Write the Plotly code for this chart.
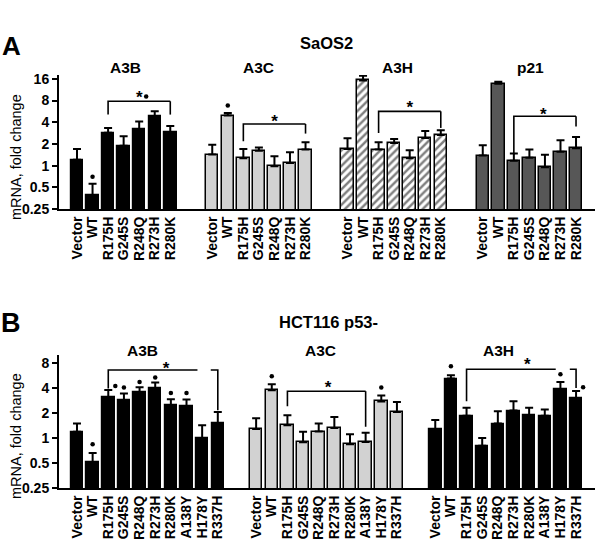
import math
import plotly.graph_objects as go

FONT = "Arial, 'Liberation Sans', Helvetica, sans-serif"

# ---------------- data ----------------
mutants_A = ["Vector", "WT", "R175H", "G245S", "R248Q", "R273H", "R280K"]
mutants_B = ["Vector", "WT", "R175H", "G245S", "R248Q", "R273H", "R280K",
             "A138Y", "H178Y", "R337H"]
genes_A = ["A3B", "A3C", "A3H", "p21"]
genes_B = ["A3B", "A3C", "A3H"]

# SaOS2: mean fold change and upper end of the error bar
saos2_A3B = [1.21, 0.39, 2.85, 1.88, 3.23, 4.83, 2.90]
saos2_A3B_hi = [1.70, 0.56, 3.33, 2.55, 4.08, 5.66, 3.55]
saos2_A3C = [1.42, 4.94, 1.26, 1.61, 0.98, 1.09, 1.67]
saos2_A3C_hi = [1.94, 5.38, 1.70, 1.78, 1.35, 1.53, 2.10]
saos2_A3H = [1.70, 15.2, 1.67, 2.06, 1.26, 2.42, 2.66]
saos2_A3H_hi = [2.39, 17.7, 2.10, 2.34, 1.63, 3.03, 3.09]
saos2_p21 = [1.38, 13.7, 1.17, 1.29, 0.95, 1.56, 1.74]
saos2_p21_hi = [1.91, 14.6, 1.47, 1.67, 1.41, 2.24, 2.50]

# HCT116 p53-
hct_A3B = [1.19, 0.51, 3.09, 2.89, 3.61, 4.03, 2.50, 2.43, 1.00, 1.52]
hct_A3B_hi = [1.50, 0.66, 3.81, 3.45, 4.11, 4.69, 2.95, 2.92, 1.43, 2.07]
hct_A3C = [1.29, 3.78, 1.43, 0.89, 1.20, 1.32, 0.84, 0.90, 2.77, 2.06]
hct_A3C_hi = [1.74, 4.47, 1.88, 1.19, 1.50, 1.80, 1.11, 1.16, 3.27, 2.73]
hct_A3H = [1.28, 5.23, 1.86, 0.81, 1.50, 2.15, 1.89, 1.86, 3.86, 3.03]
hct_A3H_hi = [1.65, 5.74, 2.32, 1.00, 2.11, 2.79, 2.32, 2.21, 4.76, 3.71]

y_ticks = [0.25, 0.5, 1, 2, 4, 8, 16]
y_ticktext = ["0.25", "0.5", "1", "2", "4", "8", "16"]

# ---------------- layout helpers ----------------
W, H = 600, 540
ML, MR = 59, 5
PW = W - ML - MR


def px_x(p):
    return (p - ML) / PW


def px_y(p):
    return (H - p) / H


GAP_A = 8.7     # slot offset between gene groups, panel A
GAP_B = 11.45   # panel B

BLACK = "#000000"
LGRAY = "#d2d2d2"
DGRAY = "#575757"

styles = {
    "black": dict(color=BLACK, line=dict(color=BLACK, width=1.2)),
    "light": dict(color=LGRAY, line=dict(color=BLACK, width=1.5)),
    "dark": dict(color=DGRAY, line=dict(color=BLACK, width=1.5)),
    "hatch": dict(color="white",
                  pattern=dict(shape="/", fgcolor=BLACK, bgcolor="white",
                               size=5.5, solidity=0.45),
                  line=dict(color=BLACK, width=1.5)),
}

fig = go.Figure()


def add_group(vals, his, g, gap, labels, style, xa, ya):
    xs = [g * gap + i for i in range(len(labels))]
    plus = [h - v for v, h in zip(vals, his)]
    fig.add_trace(go.Bar(
        x=xs, y=vals, width=0.8, xaxis=xa, yaxis=ya,
        marker=styles[style],
        error_y=dict(type="data", symmetric=False, array=plus,
                     arrayminus=[0] * len(vals), color=BLACK,
                     thickness=2, width=4),
        showlegend=False, hoverinfo="skip"))
    return xs


panelA = [(saos2_A3B, saos2_A3B_hi, "black"), (saos2_A3C, saos2_A3C_hi, "light"),
          (saos2_A3H, saos2_A3H_hi, "hatch"), (saos2_p21, saos2_p21_hi, "dark")]
panelB = [(hct_A3B, hct_A3B_hi, "black"), (hct_A3C, hct_A3C_hi, "light"),
          (hct_A3H, hct_A3H_hi, "black")]

tickA, textA = [], []
for g, (v, h, s) in enumerate(panelA):
    tickA += add_group(v, h, g, GAP_A, mutants_A, s, "x", "y")
    textA += mutants_A
tickB, textB = [], []
for g, (v, h, s) in enumerate(panelB):
    tickB += add_group(v, h, g, GAP_B, mutants_B, s, "x2", "y2")
    textB += mutants_B

# ---------------- significance brackets ----------------
# (group, [(x0, x1), ...], level, left-tick bottom, right-tick bottom)
brackets_A = [
    (0, [(2, 6)], 7.8, 5.1, 5.1),
    (1, [(2, 6)], 3.78, 2.17, 2.78),
    (2, [(2, 6)], 5.66, 2.84, 3.33),
    (3, [(2, 6)], 4.83, 1.42, 3.5),
]
brackets_B = [
    (0, [(2, 7.7), (8.55, 9)], 6.64, 3.96, 2.17),
    (1, [(2, 7)], 3.68, 2.43, 1.37),
    (2, [(2, 7.7), (8.6, 9)], 6.77, 2.79, 4.03),
]
# asterisks: (group, slot, level)
stars_A = [(0, 4.0, 9.7), (1, 4.0, 4.6), (2, 4.0, 7.2), (3, 3.9, 5.8)]
stars_B = [(0, 5.7, 7.7), (1, 4.6, 4.55), (2, 5.88, 8.5)]
# dots: (group, slot, level)
dots_A = [(0, 1, 0.70), (0, 4.45, 9.1), (1, 1, 6.8), (2, 1, 21.4), (3, 1, 19.7)]
dots_B = [(0, 1, 0.84), (0, 2.45, 4.26), (0, 3, 4.08), (0, 4, 4.76), (0, 5, 5.38),
          (0, 6, 3.51), (0, 7, 3.51), (1, 1, 5.58), (1, 8, 4.08),
          (2, 1, 7.36), (2, 8, 5.9), (2, 9.45, 4.1)]


def add_marks(brackets, stars, dots, gap, xa, ya, star_shift):
    bx, by = [], []
    for g, segs, lvl, lb, rb in brackets:
        off = g * gap
        (a0, a1) = segs[0]
        bx += [off + a0, off + a0, off + a1, None]
        by += [lb, lvl, lvl, None]
        (c0, c1) = segs[-1]
        if len(segs) > 1:
            bx += [off + c0, off + c1, off + c1, None]
            by += [lvl, lvl, rb, None]
        else:
            bx[-2] = off + c1
            bx += [off + c1, off + c1, None]
            by += [lvl, rb, None]
    fig.add_trace(go.Scatter(x=bx, y=by, mode="lines", xaxis=xa, yaxis=ya,
                             line=dict(color=BLACK, width=1.6),
                             showlegend=False, hoverinfo="skip"))
    fig.add_trace(go.Scatter(
        x=[g * gap + s for g, s, _ in stars],
        y=[l * star_shift for _, _, l in stars],
        mode="text", text=["*"] * len(stars), xaxis=xa, yaxis=ya,
        textfont=dict(family=FONT, size=17, color=BLACK, weight="bold"),
        showlegend=False, hoverinfo="skip"))
    fig.add_trace(go.Scatter(
        x=[g * gap + s for g, s, _ in dots], y=[l for _, _, l in dots],
        mode="markers", xaxis=xa, yaxis=ya,
        marker=dict(color=BLACK, size=4.5, line=dict(width=0)),
        showlegend=False, hoverinfo="skip"))


add_marks(brackets_A, stars_A, dots_A, GAP_A, "x", "y", 0.86)
add_marks(brackets_B, stars_B, dots_B, GAP_B, "x2", "y2", 0.87)

# ---------------- axes ----------------
xcommon = dict(showline=True, linecolor=BLACK, linewidth=2, ticks="",
               showgrid=False, zeroline=False, tickangle=-90,
               tickfont=dict(family=FONT, size=14, color=BLACK, weight="bold"),
               domain=[0, 1], automargin=False)
ycommon = dict(type="log", showline=True, linecolor=BLACK, linewidth=2,
               ticks="outside", ticklen=5, tickwidth=2, tickcolor=BLACK,
               showgrid=False, zeroline=False, tickvals=y_ticks,
               ticktext=y_ticktext,
               tickfont=dict(family=FONT, size=14, color=BLACK, weight="bold"),
               automargin=False)

fig.update_layout(
    width=W, height=H, plot_bgcolor="white", paper_bgcolor="white",
    margin=dict(l=ML, r=MR, t=0, b=0), barmode="overlay", bargap=0,
    font=dict(family=FONT, color=BLACK),
    xaxis=dict(xcommon, anchor="y", range=[-1.158, 33.32],
               tickvals=tickA, ticktext=textA),
    yaxis=dict(ycommon, anchor="x", domain=[px_y(209), px_y(75)],
               range=[math.log10(0.25), 1.2568]),
    xaxis2=dict(xcommon, anchor="y2", range=[-1.15, 33.11],
                tickvals=tickB, ticktext=textB),
    yaxis2=dict(ycommon, anchor="x2", domain=[px_y(488), px_y(355)],
                range=[math.log10(0.25), 1.0025]),
)

# ---------------- texts ----------------
ann = []


def text(t, x, y, size, bold=True, angle=0):
    ann.append(dict(text=t, x=px_x(x), y=px_y(y), xref="paper", yref="paper",
                    showarrow=False, textangle=angle, xanchor="center",
                    yanchor="middle",
                    font=dict(family=FONT, size=size, color=BLACK,
                              weight="bold" if bold else "normal")))


text("A", 11, 46, 26)
text("B", 11, 323, 27)
text("SaOS2", 326, 43, 16.5)
text("HCT116 p53-", 328, 322, 16.5)
for t, x in zip(genes_A, [125, 258, 397, 530]):
    text(t, x, 67, 15.5)
for t, x in zip(genes_B, [142, 320, 498]):
    text(t, x, 350, 15.5)
text("mRNA, fold change", 16, 157, 14.5, bold=False, angle=-90)
text("mRNA, fold change", 16, 436, 14.5, bold=False, angle=-90)
fig.update_layout(annotations=ann)

fig.write_html(
    "out.html",
    config={"displayModeBar": False},
    post_script="document.body.style.margin='0';"
                "document.body.style.padding='0';"
                "document.body.style.overflow='hidden';")
